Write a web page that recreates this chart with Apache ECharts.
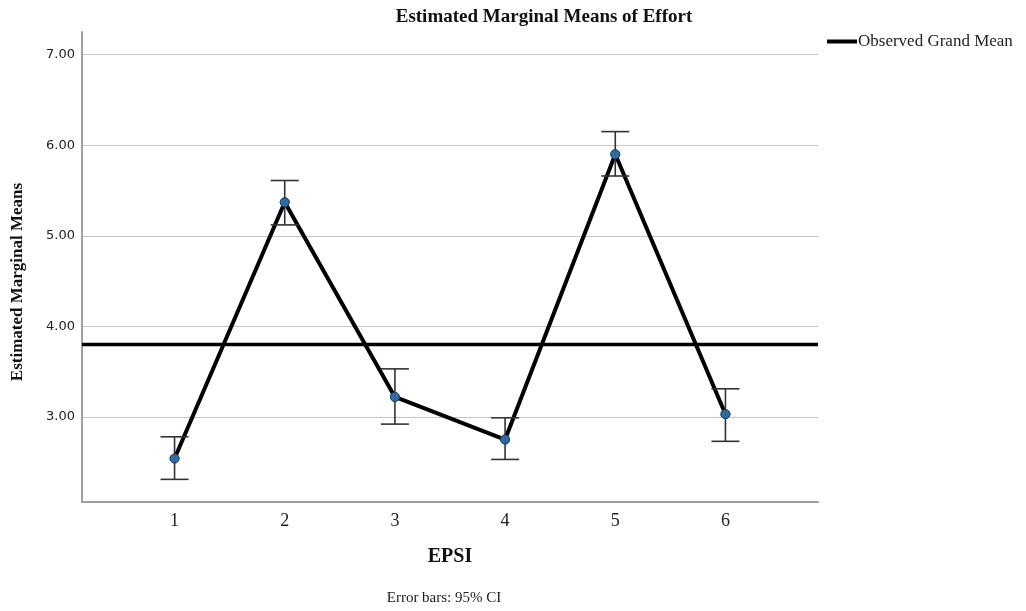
<!DOCTYPE html>
<html>
<head>
<meta charset="utf-8">
<script src="https://cdn.jsdelivr.net/npm/echarts@6/dist/echarts.min.js"></script>
<style>html,body{margin:0;padding:0;background:#fff;}#c{width:1026px;height:611px;}</style>
</head>
<body>
<div id="c"></div>
<script>
// Data
const categories = [1, 2, 3, 4, 5, 6];
const means = [2.54, 5.37, 3.22, 2.75, 5.90, 3.03];
const ciLower = [2.31, 5.12, 2.92, 2.53, 5.66, 2.73];
const ciUpper = [2.78, 5.61, 3.53, 2.99, 6.15, 3.31];
const grandMean = 3.80;
const yTicks = [3, 4, 5, 6, 7];
const xRange = [0.16, 6.84];
const yRange = [2.06, 7.25];

const serif = '"Liberation Serif", "Times New Roman", serif';
const chart = echarts.init(document.getElementById('c'));

const meanData = categories.map((c, i) => [c, means[i]]);
const ciData = categories.map((c, i) => [c, ciLower[i], ciUpper[i]]);

chart.setOption({
  animation: false,
  backgroundColor: '#fff',
  title: {
    text: 'Estimated Marginal Means of Effort',
    left: 544, top: 8, textAlign: 'center', padding: 0,
    textStyle: { fontFamily: serif, fontSize: 19, fontWeight: 'bold', color: '#111' }
  },
  legend: {
    left: 827, top: 33, padding: 0,
    itemWidth: 30, itemHeight: 4, itemGap: 4,
    icon: 'rect',
    data: [{ name: 'Observed Grand Mean' }],
    textStyle: { fontFamily: serif, fontSize: 17, color: '#222', padding: [0, 0, 0, -4] }
  },
  graphic: [
    {
      type: 'text', x: 444, y: 598,
      style: { text: 'Error bars: 95% CI', font: '15px ' + serif, fill: '#222', textAlign: 'center', textVerticalAlign: 'middle' }
    },
    {
      type: 'text', x: 18, y: 282, rotation: Math.PI / 2,
      style: { text: 'Estimated Marginal Means', font: 'bold 17px ' + serif, fill: '#111', textAlign: 'center', textVerticalAlign: 'middle' }
    }
  ],
  grid: { left: 82, right: 208, top: 32, bottom: 109 },
  xAxis: {
    type: 'value', min: xRange[0], max: xRange[1],
    name: 'EPSI', nameLocation: 'middle', nameGap: 45,
    nameTextStyle: { fontFamily: serif, fontSize: 20, fontWeight: 'bold', color: '#111' },
    axisLine: { show: true, lineStyle: { color: '#a0a0a0', width: 2 } },
    axisTick: { show: false, customValues: categories },
    axisLabel: { customValues: categories, fontFamily: serif, fontSize: 18, color: '#222', margin: 10 },
    splitLine: { show: false }
  },
  yAxis: {
    type: 'value', min: yRange[0], max: yRange[1],
    axisLine: { show: true, lineStyle: { color: '#a0a0a0', width: 2 } },
    axisTick: { show: false, customValues: yTicks },
    axisLabel: { customValues: yTicks, formatter: v => v.toFixed(2), fontFamily: '"DejaVu Sans", sans-serif', fontSize: 13, color: '#222', margin: 7 },
    splitLine: { show: true, lineStyle: { color: '#c4c4c4', width: 1 } }
  },
  series: [
    {
      name: 'Observed Grand Mean', type: 'line',
      data: [[xRange[0], grandMean], [xRange[1], grandMean]],
      symbol: 'none', lineStyle: { color: '#000', width: 3.5 }, itemStyle: { color: '#000' },
      z: 3
    },
    {
      name: 'Mean', type: 'line', data: meanData,
      lineStyle: { color: '#000', width: 4 },
      symbol: 'circle', symbolSize: 9,
      itemStyle: { color: '#2f6fa8', borderColor: '#1b3f66', borderWidth: 1 },
      z: 4
    },
    {
      name: 'CI', type: 'custom', data: ciData, z: 5,
      renderItem: function (params, api) {
        const x = api.value(0);
        const lo = api.coord([x, api.value(1)]);
        const hi = api.coord([x, api.value(2)]);
        const hw = 14;
        const st = { stroke: '#333', lineWidth: 1.6 };
        return {
          type: 'group', children: [
            { type: 'line', shape: { x1: lo[0], y1: lo[1], x2: hi[0], y2: hi[1] }, style: st },
            { type: 'line', shape: { x1: lo[0] - hw, y1: lo[1], x2: lo[0] + hw, y2: lo[1] }, style: st },
            { type: 'line', shape: { x1: hi[0] - hw, y1: hi[1], x2: hi[0] + hw, y2: hi[1] }, style: st }
          ]
        };
      }
    },
    {
      name: 'MeanPts', type: 'scatter', data: meanData, z: 6,
      symbol: 'circle', symbolSize: 9,
      itemStyle: { color: '#2f6fa8', borderColor: '#1b3f66', borderWidth: 1 }
    }
  ]
});
</script>
</body>
</html>
